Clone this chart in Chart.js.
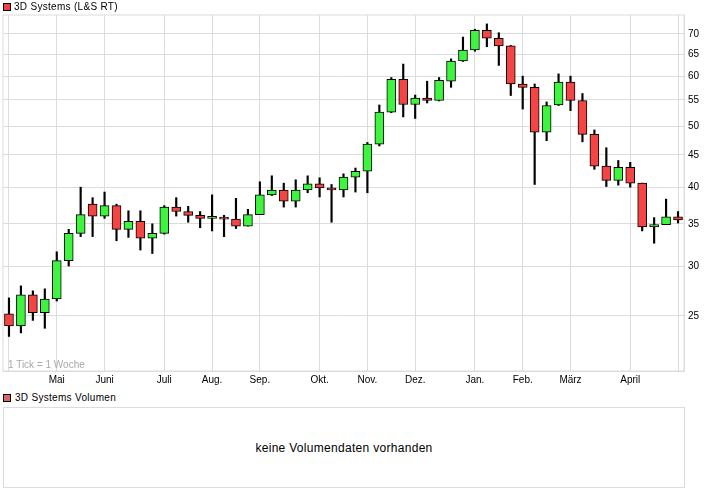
<!DOCTYPE html>
<html>
<head>
<meta charset="utf-8">
<script src="https://cdn.jsdelivr.net/npm/chart.js@4/dist/chart.umd.min.js"></script>
<style>
  html, body { margin:0; padding:0; background:#fff; }
  body { width:726px; height:496px; overflow:hidden; position:relative; font-family:'Liberation Sans', Arial, sans-serif; color:#000; }
  #wrap { position:absolute; left:0; top:0; width:726px; height:392px; }
  .leg { position:absolute; font-size:10px; line-height:12px; letter-spacing:0.3px; white-space:nowrap; }
  .sq { position:absolute; width:6px; height:6px; border:1px solid #000; }
  #tickNote { position:absolute; left:8px; top:359px; font-size:10px; line-height:12px; color:#a8a8a8; white-space:nowrap; }
  #volBox { position:absolute; left:3px; top:407px; width:680px; height:79px; border:1px solid #dcdcdc; box-sizing:content-box; }
  #volText { position:absolute; left:0; right:0; top:33px; text-align:center; font-size:12px; line-height:14px; letter-spacing:0.3px; }
</style>
</head>
<body>
<div id="wrap"><canvas id="c" width="726" height="392"></canvas></div>
<div class="sq" style="left:3px;top:3px;background:#f04040;"></div>
<div class="leg" style="left:14px;top:1px;">3D Systems (L&amp;S RT)</div>
<div id="tickNote">1 Tick = 1 Woche</div>
<div class="sq" style="left:3px;top:394px;background:#dc6464;"></div>
<div class="leg" style="left:15px;top:392px;">3D Systems Volumen</div>
<div id="volBox"><div id="volText">keine Volumendaten vorhanden</div></div>
<script>
// Weekly candles, week starting Monday (Apr 2013 – Apr 2014)
const weeks = ['01.04.13','08.04.13','15.04.13','22.04.13','29.04.13','06.05.13','13.05.13','20.05.13','27.05.13','03.06.13','10.06.13','17.06.13','24.06.13','01.07.13','08.07.13','15.07.13','22.07.13','29.07.13','05.08.13','12.08.13','19.08.13','26.08.13','02.09.13','09.09.13','16.09.13','23.09.13','30.09.13','07.10.13','14.10.13','21.10.13','28.10.13','04.11.13','11.11.13','18.11.13','25.11.13','02.12.13','09.12.13','16.12.13','23.12.13','30.12.13','06.01.14','13.01.14','20.01.14','27.01.14','03.02.14','10.02.14','17.02.14','24.02.14','03.03.14','10.03.14','17.03.14','24.03.14','31.03.14','07.04.14','14.04.14','21.04.14','28.04.14'];
const openV  = [25.2,24.1,27.0,25.3,26.6,30.6,33.8,37.6,36.0,37.4,34.3,35.3,33.2,33.8,37.2,36.6,36.1,35.7,35.7,35.6,34.7,36.2,38.9,39.6,38.0,39.6,40.5,39.9,39.6,41.5,42.4,46.8,52.6,59.3,54.1,55.4,54.9,58.9,63.4,66.0,70.9,68.9,67.0,58.3,57.6,48.9,54.0,58.7,54.9,48.5,43.2,41.0,43.0,40.6,34.6,34.9,35.9];
const highV  = [26.7,27.9,27.4,27.6,31.6,34.3,40.0,38.5,39.3,37.6,36.7,36.7,35.0,37.4,38.5,37.3,36.6,38.9,36.1,38.4,36.9,40.8,41.7,40.6,41.1,41.7,41.4,40.4,42.0,42.9,47.1,54.0,59.7,62.7,56.0,58.9,59.7,63.9,69.2,71.2,72.6,70.3,67.1,60.0,58.3,54.6,60.5,60.0,56.3,49.3,46.2,44.1,43.8,40.6,35.8,38.3,36.6];
const lowV   = [23.2,23.5,24.6,23.9,26.4,30.0,33.4,33.4,35.7,32.9,33.3,31.8,31.4,33.7,36.0,35.2,34.5,34.1,33.4,34.4,34.7,36.2,38.8,37.2,37.2,39.2,38.6,35.2,38.6,39.3,39.2,46.5,52.5,51.7,51.4,54.4,54.8,57.6,63.3,65.7,66.8,62.4,55.9,53.2,40.4,47.4,53.9,52.9,47.2,42.7,40.1,40.3,40.0,34.1,32.6,34.9,35.1];
const closeV = [24.1,27.0,25.3,26.6,30.6,33.8,36.2,36.0,37.4,34.3,35.3,33.2,33.8,37.2,36.6,36.1,35.7,35.72,35.6,34.7,36.2,38.9,39.6,38.0,39.6,40.5,39.9,39.6,41.5,42.4,46.8,52.6,59.3,54.1,55.4,54.9,59.1,63.4,66.0,70.9,68.9,67.0,58.3,57.6,48.9,53.9,58.7,54.9,48.5,43.2,41.0,43.0,40.6,34.6,34.9,35.9,35.5];
// Month ticks: week index → label
const monthTickIdx  = [0, 4, 8, 13, 17, 21, 26, 30, 34, 39, 43, 47, 52, 56];
const monthTickText = ['', 'Mai', 'Juni', 'Juli', 'Aug.', 'Sep.', 'Okt.', 'Nov.', 'Dez.', 'Jan.', 'Feb.', 'März', 'April', ''];
const yTicks = [25, 30, 35, 40, 45, 50, 55, 60, 65, 70];

const GREEN = '#3ef43e', RED = '#f44444', GRID = '#dcdcdc';
const bodies = weeks.map((w, i) => [openV[i], closeV[i]]);
const wicks  = weeks.map((w, i) => [lowV[i], highV[i]]);
const bodyColors = weeks.map((w, i) => closeV[i] >= openV[i] ? GREEN : RED);

const frame = {
  id: 'frame',
  beforeDatasetsDraw(chart) {
    const a = chart.chartArea, ctx = chart.ctx;
    ctx.save();
    ctx.strokeStyle = GRID; ctx.lineWidth = 1;
    ctx.strokeRect(a.left, a.top, a.right - a.left, a.bottom - a.top);
    ctx.restore();
  }
};

new Chart(document.getElementById('c'), {
  type: 'bar',
  data: {
    labels: weeks,
    datasets: [
      { label: 'body', data: bodies, backgroundColor: bodyColors, borderColor: '#000', borderWidth: 1,
        borderSkipped: false, barThickness: 9, minBarLength: 2, grouped: false, order: 0 },
      { label: 'wick', data: wicks, backgroundColor: '#000', borderWidth: 0,
        barThickness: 1.5, grouped: false, order: 1 }
    ]
  },
  options: {
    responsive: false, animation: false, devicePixelRatio: 1,
    layout: { padding: { left: 3, top: 15, right: 0, bottom: 0 } },
    plugins: { legend: { display: false }, tooltip: { enabled: false } },
    scales: {
      x: {
        type: 'category', offset: true,
        grid: { offset: false, drawTicks: false,
          color: (c) => monthTickIdx.includes(c.index) ? GRID : 'rgba(0,0,0,0)' },
        border: { display: true, color: GRID },
        ticks: { autoSkip: false, maxRotation: 0, padding: 3, color: '#000',
          font: { family: "'Liberation Sans', Arial, sans-serif", size: 10 },
          callback: (v, i) => { const k = monthTickIdx.indexOf(i); return k >= 0 ? monthTickText[k] : ''; } },
        afterFit: (s) => { s.height = 21; }
      },
      y: {
        type: 'logarithmic', position: 'right', min: 20.45, max: 75,
        grid: { color: GRID, drawTicks: false },
        border: { display: true, color: GRID },
        afterBuildTicks: (s) => { s.ticks = yTicks.map(v => ({ value: v })); },
        ticks: { padding: 4, color: '#000',
          font: { family: "'Liberation Sans', Arial, sans-serif", size: 10 },
          callback: (v) => String(v) },
        afterFit: (s) => { s.width = 42; }
      }
    }
  },
  plugins: [frame]
});
</script>
</body>
</html>
